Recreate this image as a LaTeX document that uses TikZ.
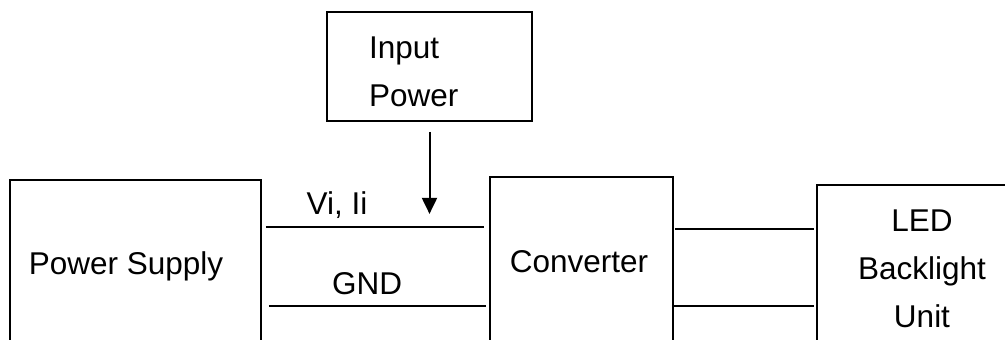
\documentclass[tikz,border=0pt]{standalone}
\usepackage{fontspec}
\setmainfont{Liberation Sans}
\usetikzlibrary{arrows.meta,calc}

\begin{document}
\begin{tikzpicture}[x=1pt,y=-1pt,line width=2pt,
		box/.style={draw,line width=1.8pt,inner sep=0pt},
		lbl/.style={font=\fontsize{31.5}{48}\selectfont,inner sep=0pt,anchor=base}]
				\useasboundingbox (0,0) rectangle (1005,340);
				\clip (0,0) rectangle (1005,340);
				
				\node[box,minimum width=251pt,minimum height=220pt] (ps) at (135.5,290) {};
				\node[box,minimum width=205pt,minimum height=109pt] (ip) at (429.5,66.5) {};
				\node[box,minimum width=183pt,minimum height=223pt] (conv) at (581.5,288.5) {};
				\node[box,minimum width=283pt,minimum height=215pt] (led) at (958.5,292.5) {};
				
				\node[lbl] (psT) at (126,274) {Power Supply};
				\node[lbl,align=left,anchor=base west] (ipT) at (368,106) {Input\\Power};
				\node[lbl] (convT) at (579,272) {Converter};
				\node[lbl,align=center] (ledT) at (922,327) {LED\\Backlight\\Unit};
				\node[lbl] (viT) at (337,214) {Vi, Ii};
				\node[lbl] (gndT) at (367,294) {GND};
				
				\coordinate (tip) at ($(ip.south)+(0,92)$);
				\draw[-{Triangle[width=15pt,length=16pt]}] ($(ip.south)+(0,10)$) -- (tip);
				
				\draw[shorten <=4pt,shorten >=5pt] ($(ps.north east)+(0,48)$) -- ($(ps.north east -| conv.west)+(0,48)$);
				\draw[shorten <=7pt,shorten >=3pt] ($(ps.north east)+(0,127)$) -- ($(ps.north east -| conv.west)+(0,127)$);
				
				\draw[shorten <=1pt,shorten >=2pt] ($(conv.north east)+(0,53)$) -- ($(conv.north east -| led.west)+(0,53)$);
				\draw[shorten <=-2pt,shorten >=2pt] ($(conv.north east)+(0,130)$) -- ($(conv.north east -| led.west)+(0,130)$);
\end{tikzpicture}
\end{document}
